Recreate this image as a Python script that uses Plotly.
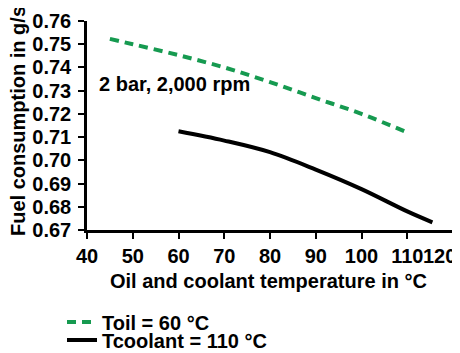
import plotly.graph_objects as go

# Data
oil_temp = [45, 50, 60, 70, 80, 90, 100, 110]
fuel_oil60 = [0.7523, 0.7500, 0.7453, 0.7400, 0.7337, 0.7268, 0.7200, 0.7120]

cool_temp = [60, 70, 80, 90, 100, 110, 115.5]
fuel_cool110 = [0.7125, 0.7085, 0.7035, 0.6960, 0.6876, 0.6780, 0.6733]

x_ticks = [40, 50, 60, 70, 80, 90, 100, 110, 120]
x_ticktext = ["40", "50", "60", "70", "80", "90", "100", "110", ""]
x_last_label = "120"  # drawn as an annotation so it stays inside the frame
y_ticks = [0.67, 0.68, 0.69, 0.70, 0.71, 0.72, 0.73, 0.74, 0.75, 0.76]

FONT = "Liberation Sans, Arial, sans-serif"
FS = 20

fig = go.Figure()
fig.add_trace(go.Scatter(
    x=oil_temp, y=fuel_oil60, mode="lines", name="<b>Toil = 60 °C</b>",
    line=dict(color="#169a50", width=4, dash="9px,6px", shape="spline", smoothing=1),
    legend="legend",
))
fig.add_trace(go.Scatter(
    x=cool_temp, y=fuel_cool110, mode="lines", name="<b>Tcoolant = 110 °C</b>",
    line=dict(color="#000000", width=4, shape="spline", smoothing=1),
    legend="legend2",
))

axis_common = dict(
    showline=True, linecolor="black", linewidth=2.5, mirror=False,
    ticks="outside", ticklen=6, tickwidth=2, tickcolor="black",
    showgrid=False, zeroline=False, automargin=False,
    tickfont=dict(family=FONT, size=FS, color="black", weight="bold"),
)

fig.update_layout(
    width=460, height=353,
    margin=dict(l=79, r=15, t=13, b=131, autoexpand=False),
    paper_bgcolor="white", plot_bgcolor="white",
    font=dict(family=FONT, size=FS, color="black"),
    xaxis=dict(range=[40, 120], tickvals=x_ticks, ticktext=x_ticktext, tickangle=0,
               **axis_common),
    yaxis=dict(range=[0.67, 0.76], tickvals=y_ticks, tickformat=".2f",
               ticklabelstandoff=3, **axis_common),
    showlegend=True,
    legend=dict(x=(62 - 87) / 366, y=(230 - 322) / 209, xanchor="left", yanchor="middle",
                bgcolor="rgba(0,0,0,0)", font=dict(family=FONT, size=FS, color="black"),
                itemwidth=30),
    legend2=dict(x=(62 - 87) / 366, y=(230 - 340) / 209, xanchor="left", yanchor="middle",
                 bgcolor="rgba(0,0,0,0)", font=dict(family=FONT, size=FS, color="black"),
                 itemwidth=30),
    annotations=[
        dict(text="<b>Fuel consumption in g/s</b>", xref="paper", yref="paper",
             x=(18 - 87) / 366, y=(230 - 121) / 209, xanchor="center", yanchor="middle",
             textangle=-90, showarrow=False, font=dict(family=FONT, size=FS, color="black")),
        dict(text="<b>Oil and coolant temperature in °C</b>", xref="paper", yref="paper",
             x=(268 - 87) / 366, y=(230 - 281) / 209, xanchor="center", yanchor="middle",
             showarrow=False, font=dict(family=FONT, size=FS, color="black")),
        dict(text="<b>2 bar, 2,000 rpm</b>", xref="x", yref="y",
             x=42.2, y=0.7327, xanchor="left", yanchor="middle",
             showarrow=False, font=dict(family=FONT, size=FS, color="black")),
        dict(text="<b>" + x_last_label + "</b>", xref="x", yref="paper",
             x=x_ticks[-1], y=(230 - 256) / 209, xanchor="right", yanchor="middle",
             xshift=5, showarrow=False, font=dict(family=FONT, size=FS, color="black")),
    ],
)

fig.write_html("out.html")
